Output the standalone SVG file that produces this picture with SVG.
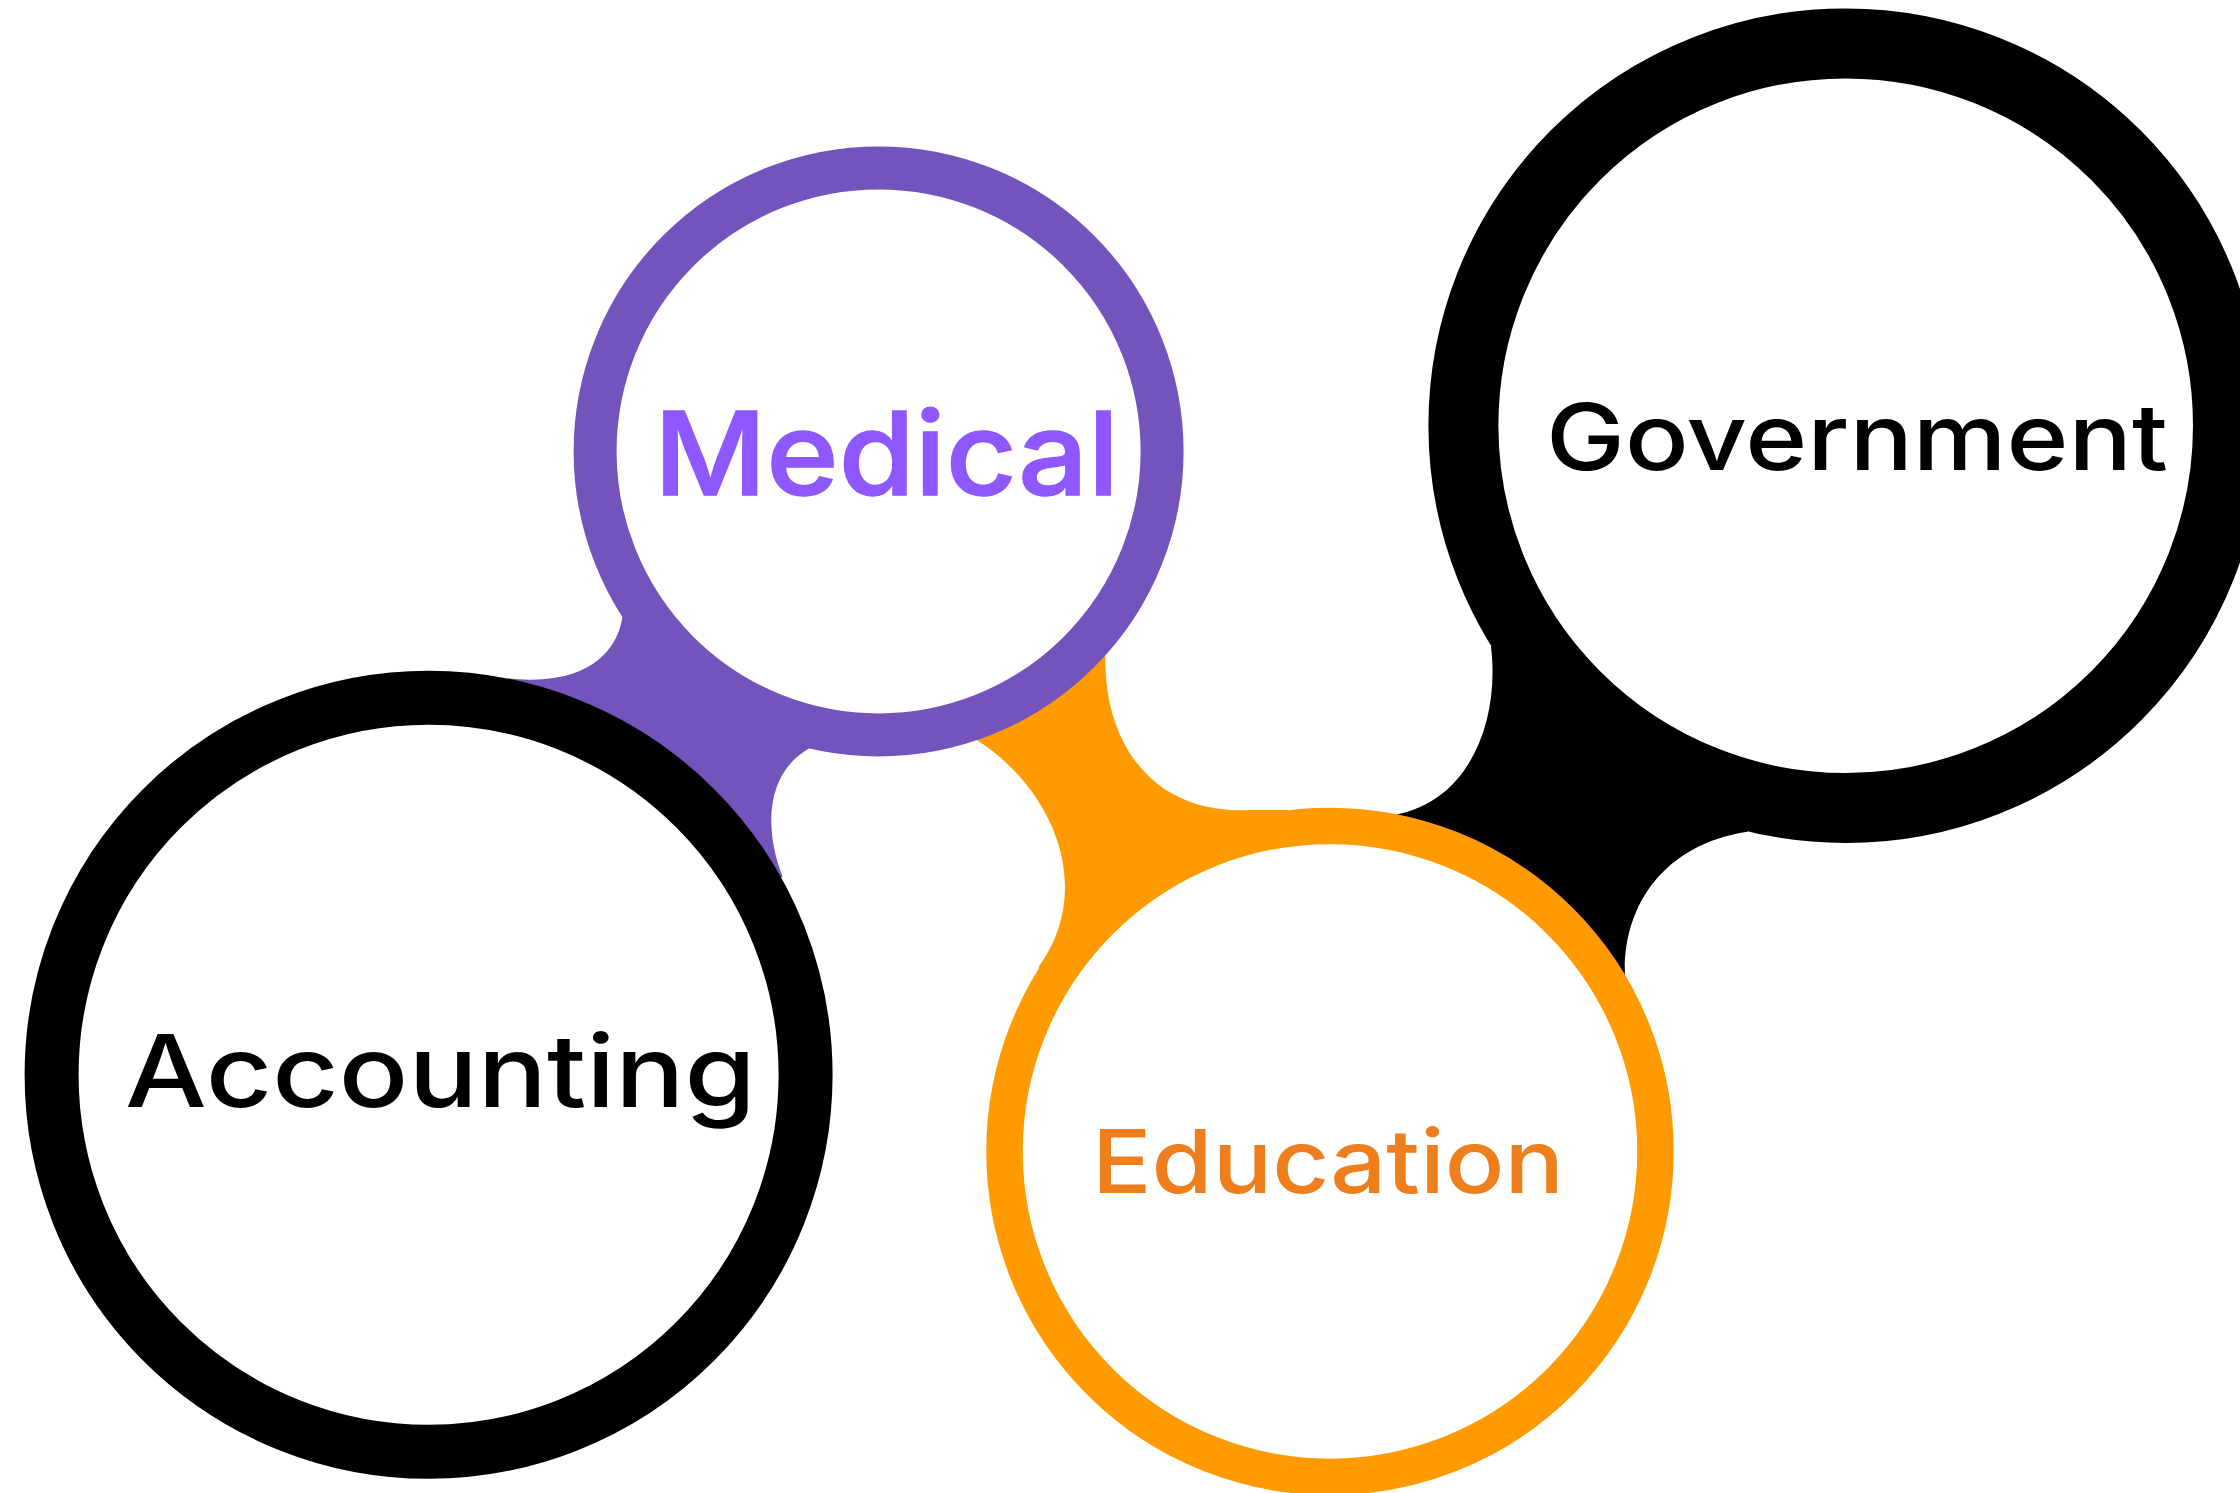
<svg xmlns="http://www.w3.org/2000/svg" width="2240" height="1493" viewBox="0 0 2240 1493">
  <style>
    .ring { fill: #ffffff; }
    .lbl { font-family: "Inter", "Lato", "Liberation Sans", sans-serif; font-weight: 500; }
  </style>
  <rect x="0" y="0" width="2240" height="1493" fill="#ffffff"/>
  <g id="connectors">
    <path id="conn-medical-accounting" fill="#7453BD"
      d="M 622.8 615.7 C 615 665 570 685 508 678.6 L 428.6 1074.3 L 782.6 876.7 C 763 826 767 772 809.4 748.3 L 878.6 451.4 Z"/>
    <path id="conn-medical-education" fill="#FF9B00"
      d="M 976.8 740 C 1055 790 1095 890 1038.5 967 L 1330 1151.4 L 1288 810 L 1250 810 C 1150 815 1104 740 1105.4 656.7 L 878.6 451.4 Z"/>
    <path id="conn-government-education" fill="#000000"
      d="M 1491 646.7 C 1500 720 1470 800 1397.3 814.3 L 1330 1151.4 L 1625 976.7 C 1622 910 1660 845 1747.5 831.7 L 1845.7 425.7 Z"/>
  </g>
  <g id="node-medical">
    <circle class="ring" cx="878.6" cy="451.4" r="283.5" stroke="#7453BD" stroke-width="43"/>
    <text class="lbl" x="654" y="495" font-size="116" fill="#8E57FF" stroke="#8E57FF" stroke-width="1.5" textLength="465" lengthAdjust="spacingAndGlyphs">Medical</text>
  </g>
  <g id="node-accounting">
    <circle class="ring" cx="428.6" cy="1074.8" r="377" stroke="#000000" stroke-width="54"/>
    <text class="lbl" x="125" y="1107" font-size="100" fill="#000000" textLength="631" lengthAdjust="spacingAndGlyphs">Accounting</text>
  </g>
  <g id="node-government">
    <circle class="ring" cx="1845.7" cy="425.7" r="382.3" stroke="#000000" stroke-width="70"/>
    <text class="lbl" x="1546" y="470" font-size="92" fill="#000000" textLength="622" lengthAdjust="spacingAndGlyphs">Government</text>
  </g>
  <g id="node-education">
    <circle class="ring" cx="1330" cy="1151.4" r="325.5" stroke="#FF9B00" stroke-width="36.5"/>
    <text class="lbl" x="1092" y="1192.7" font-size="88.5" fill="#EE7F1C" textLength="472" lengthAdjust="spacingAndGlyphs">Education</text>
  </g>
</svg>
